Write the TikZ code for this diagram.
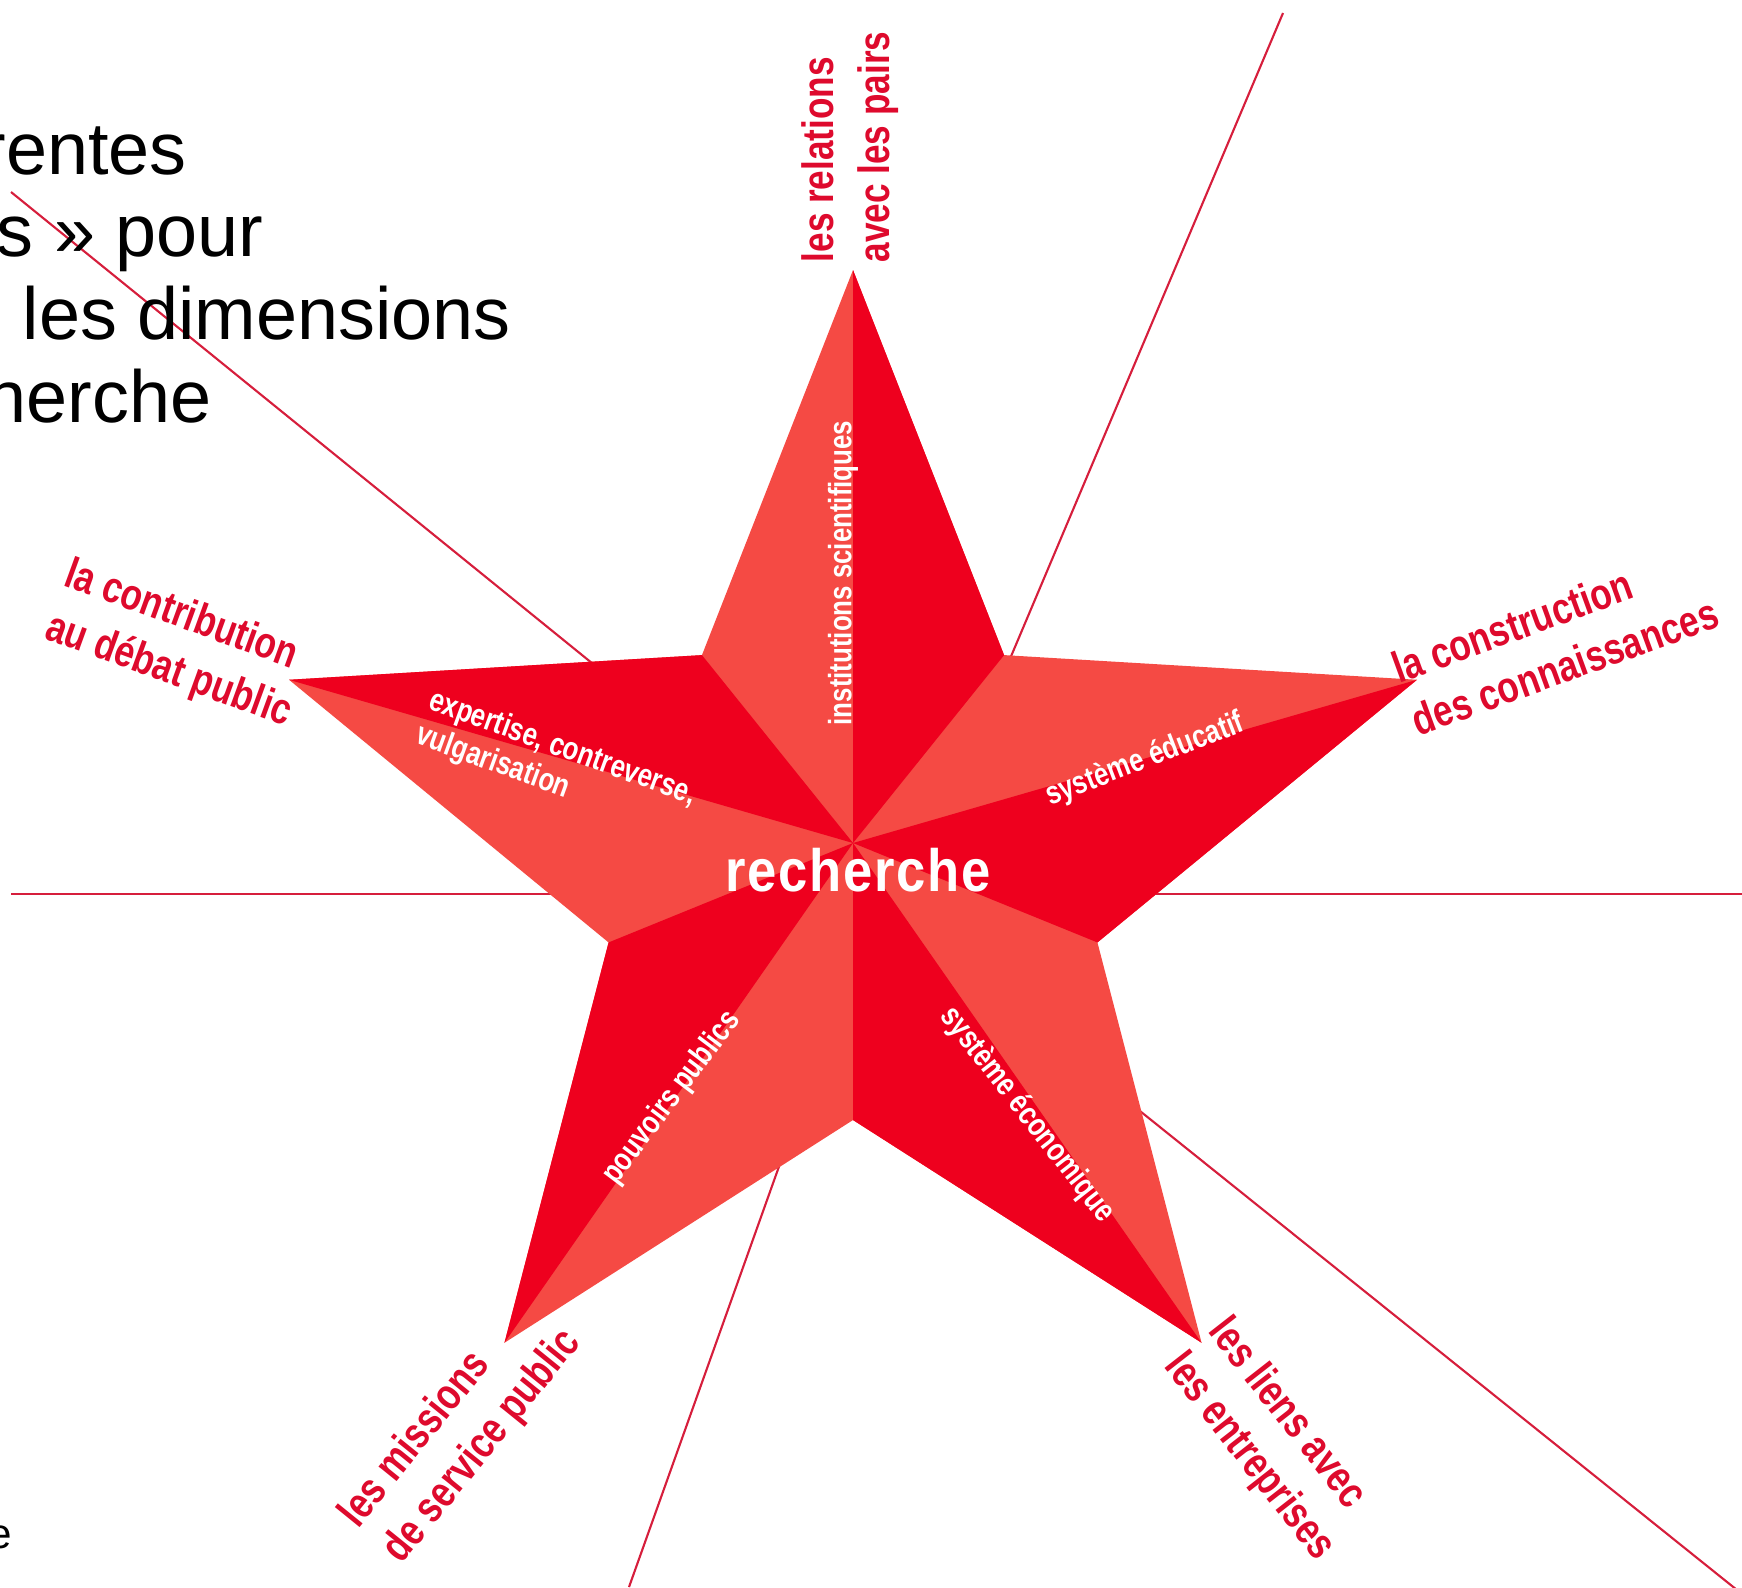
\documentclass[tikz,border=0pt]{standalone}
\usepackage{fontspec}
\setmainfont{Liberation Sans}
\newfontfamily\starfont{Liberation Sans}[FakeStretch=0.8]
\newfontfamily\heartfont{Liberation Sans}[FakeStretch=0.88,LetterSpace=3]
\definecolor{facetdark}{RGB}{238,0,30}
\definecolor{facetlight}{RGB}{245,74,68}
\definecolor{labelred}{RGB}{222,10,45}
\definecolor{rayred}{RGB}{214,30,60}

\begin{document}
\begin{tikzpicture}[
		ray/.style={draw=rayred, line width=0.6pt},
		outerlabel/.style={text=labelred, font=\starfont\bfseries\fontsize{12.5}{16}\selectfont, align=left, inner sep=0pt},
		innerlabel/.style={text=white, font=\starfont\bfseries\fontsize{9.2}{10.5}\selectfont, align=left, inner sep=0pt},
		slidetext/.style={anchor=base west, inner sep=0pt, font=\fontsize{21}{25}\selectfont}
	]
		\useasboundingbox (0,0) rectangle (17.42,-15.87);
		\clip (0,0) rectangle (17.42,-15.87);

		\draw[ray] (0.11,-1.92) -- (6.19,-6.85);
		\draw[ray] (12.83,-0.13) -- (10.01,-6.80);
		\draw[ray] (0.11,-8.94) -- (17.42,-8.94);
		\draw[ray] (6.29,-15.87) -- (7.92,-11.30);
		\draw[ray] (11.20,-10.95) -- (17.42,-15.94);

		\begin{scope}[shift={(8.53,-8.63)}]
			\coordinate (F) at (0,0.2);
			\fill[facetlight] (90:5.93) -- (54:2.57) -- (18:5.93) -- (342:2.57) -- (306:5.93) -- (270:2.57) -- (234:5.93) -- (198:2.57) -- (162:5.93) -- (126:2.57) -- cycle;
			\foreach \a in {90,162,234,306,18}
				\fill[facetdark] (F) -- (\a:5.93) -- ({\a-36}:2.57) -- cycle;
		\end{scope}

		\node[outerlabel, rotate=90] (pairs) at (8.50,-1.47) {les relations\\avec les pairs};
		\node[outerlabel, rotate=-20] (debat) at (1.78,-6.45) {la contribution\\au débat public};
		\node[outerlabel, rotate=20] (savoirs) at (15.55,-6.40) {la construction\\des connaissances};
		\node[outerlabel, rotate=51] (missions) at (4.61,-14.29) {les missions\\de service public};
		\node[outerlabel, rotate=-52] (entreprises) at (12.71,-14.40) {les liens avec\\les entreprises};

		\node[innerlabel, rotate=90] (institutions) at (8.43,-5.73) {institutions scientifiques};
		\node[innerlabel, rotate=-20] (expertise) at (5.56,-7.66) {expertise, contreverse,\\vulgarisation};
		\node[innerlabel, rotate=21] (educatif) at (11.45,-7.60) {système éducatif};
		\node[innerlabel, rotate=53] (pouvoirs) at (6.72,-10.98) {pouvoirs publics};
		\node[innerlabel, rotate=-52] (economique) at (10.27,-11.15) {système économique};
		\node[text=white, inner sep=0pt, font=\heartfont\bfseries\fontsize{17}{20}\selectfont] (recherche) at (8.58,-8.70) {recherche};

		\node[slidetext] (ligneA) at (-0.19,-1.74) {rentes};
		\node[slidetext] (ligneB) at (-0.04,-2.56) {s » pour};
		\node[slidetext] (ligneC) at (0.22,-3.39) {les dimensions};
		\node[slidetext] (ligneD) at (-0.15,-4.22) {herche};
		\node[anchor=base west, inner sep=0pt, font=\fontsize{12}{14}\selectfont] (ligneE) at (-0.12,-15.48) {e};
	\end{tikzpicture}
\end{document}
